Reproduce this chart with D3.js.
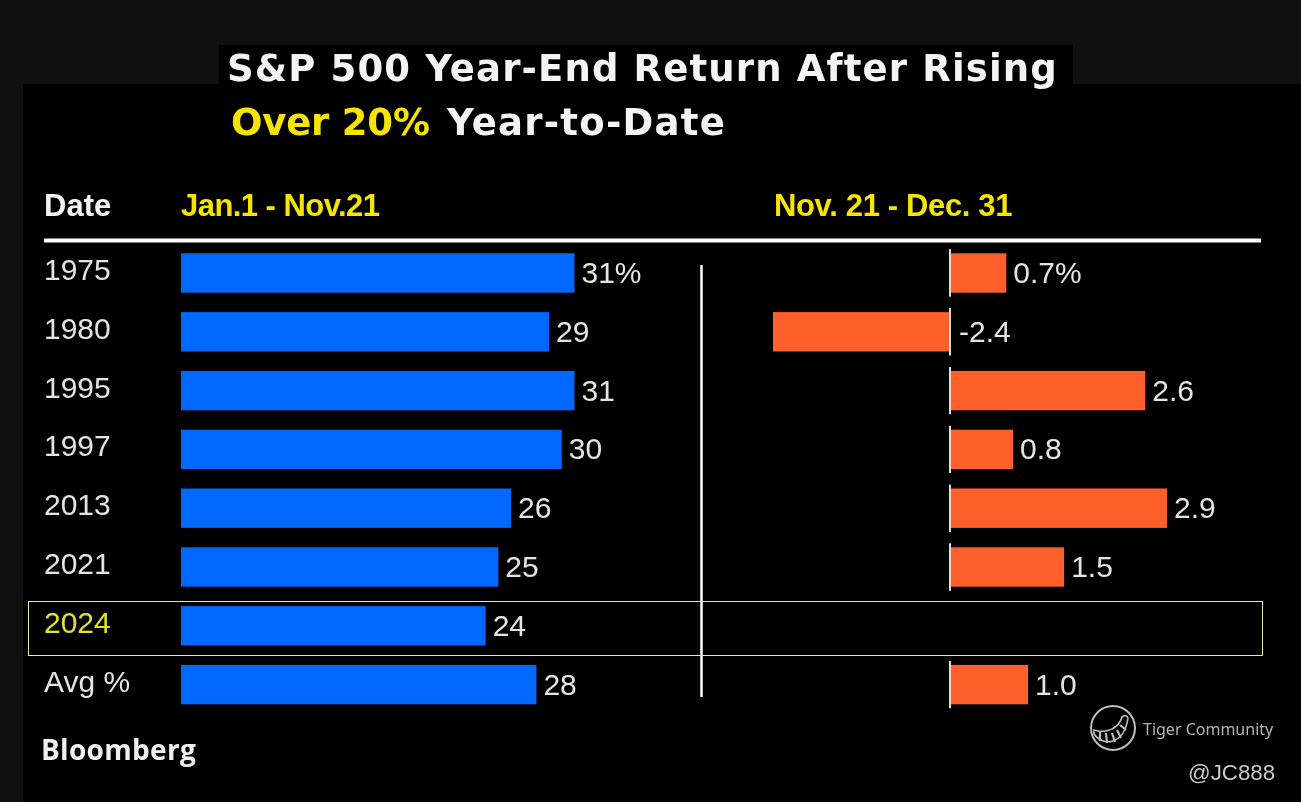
<!DOCTYPE html>
<html>
<head>
<meta charset="utf-8">
<script src="https://cdn.jsdelivr.net/npm/d3@7"></script>
<style>
  html, body { margin: 0; padding: 0; background: #101010; overflow: hidden; }
  svg { display: block; filter: blur(0.35px); font-family: "Liberation Sans", Arial, sans-serif; }
</style>
</head>
<body>
<div id="chart"></div>
<script>
const years = ["1975", "1980", "1995", "1997", "2013", "2021", "2024", "Avg %"];
const ytdReturns = [31, 29, 31, 30, 26, 25, 24, 28];
const ytdLabels = ["31%", "29", "31", "30", "26", "25", "24", "28"];
// measured bar lengths, the printed labels are rounded differently
const endReturns = [0.75, -2.36, 2.6, 0.84, 2.89, 1.52, null, 1.04];
const endLabels = ["0.7%", "-2.4", "2.6", "0.8", "2.9", "1.5", "", "1.0"];

const width = 1301, height = 802;
const blue = "#0068ff", orange = "#ff5f2a", yellow = "#f7e400", hiYellow = "#e2e22a";

const svg = d3.select("#chart").append("svg")
  .attr("width", width)
  .attr("height", height)
  .attr("viewBox", `0 0 ${width} ${height}`);

// black panel + the strip behind the first title line
svg.append("rect").attr("x", 23).attr("y", 84).attr("width", width - 23).attr("height", height - 84).attr("fill", "#000");
svg.append("rect").attr("x", 219).attr("y", 45).attr("width", 854).attr("height", 40).attr("fill", "#000");

const title = svg.append("g")
  .style("font-family", "'DejaVu Sans'")
  .style("font-size", "37px")
  .style("font-weight", "bold")
  .attr("fill", "#f4f4f4");
title.append("text")
  .attr("x", 227).attr("y", 81)
  .style("letter-spacing", "1.15px")
  .text("S&P 500 Year-End Return After Rising");
title.append("text")
  .attr("x", 231).attr("y", 135)
  .attr("fill", yellow)
  .style("letter-spacing", "-0.2px")
  .text("Over 20%");
title.append("text")
  .attr("x", 447).attr("y", 135)
  .style("letter-spacing", "1.25px")
  .text("Year-to-Date");

// column headers
const headers = svg.append("g").style("font-size", "31px").style("font-weight", "bold");
headers.append("text").attr("x", 44).attr("y", 216).attr("fill", "#f4f4f4").text("Date");
headers.append("text").attr("x", 181).attr("y", 216).attr("fill", yellow)
  .style("letter-spacing", "-0.55px").text("Jan.1 - Nov.21");
headers.append("text").attr("x", 774).attr("y", 216).attr("fill", yellow)
  .style("letter-spacing", "-0.35px").text("Nov. 21 - Dec. 31");
svg.append("line").attr("x1", 44).attr("x2", 1261).attr("y1", 240.5).attr("y2", 240.5)
  .attr("stroke", "#fff").attr("stroke-width", 4);

// scales
const y = d3.scaleBand().domain(years).range([243.6, 714]).paddingInner(0.33).paddingOuter(0.165);
const xLeft = d3.scaleLinear().domain([0, 31]).range([181, 574.5]);
const xRight = d3.scaleLinear().domain([-2.36, 0, 2.89]).range([773, 950, 1167]);

// year labels through an axis
const yAxis = svg.append("g")
  .attr("transform", "translate(115,-3.5)")
  .call(d3.axisLeft(y).tickSize(0).tickPadding(0));
yAxis.select(".domain").remove();
yAxis.selectAll("text")
  .attr("x", -71)
  .attr("text-anchor", "start")
  .attr("dy", "0.35em")
  .attr("fill", d => d === "2024" ? hiYellow : "#e4e4e4")
  .style("font-family", "'Liberation Sans'")
  .style("font-size", "30px");

const rows = years.map((year, i) => ({
  year, ytd: ytdReturns[i], ytdLabel: ytdLabels[i], end: endReturns[i], endLabel: endLabels[i]
}));

// left bars
svg.append("g").selectAll("rect").data(rows).join("rect")
  .attr("x", xLeft(0))
  .attr("y", d => y(d.year))
  .attr("width", d => xLeft(d.ytd) - xLeft(0))
  .attr("height", y.bandwidth())
  .attr("fill", blue);

svg.append("g").selectAll("text").data(rows).join("text")
  .attr("x", d => xLeft(d.ytd) + 7)
  .attr("y", d => y(d.year) + y.bandwidth() / 2 + 10)
  .attr("fill", "#e4e4e4")
  .style("font-size", "30px")
  .text(d => d.ytdLabel);

// right bars
const endRows = rows.filter(d => d.end !== null);

svg.append("g").selectAll("rect").data(endRows).join("rect")
  .attr("x", d => Math.min(xRight(d.end), xRight(0)))
  .attr("y", d => y(d.year))
  .attr("width", d => Math.abs(xRight(d.end) - xRight(0)))
  .attr("height", y.bandwidth())
  .attr("fill", orange);

svg.append("g").selectAll("line").data(endRows).join("line")
  .attr("x1", xRight(0)).attr("x2", xRight(0))
  .attr("y1", d => y(d.year) - 4)
  .attr("y2", d => y(d.year) + y.bandwidth() + 4)
  .attr("stroke", "#ddd")
  .attr("stroke-width", 2);

svg.append("g").selectAll("text").data(endRows).join("text")
  .attr("x", d => d.end < 0 ? xRight(0) + 9 : xRight(d.end) + 7)
  .attr("y", d => y(d.year) + y.bandwidth() / 2 + 10)
  .attr("fill", "#e4e4e4")
  .style("font-size", "30px")
  .text(d => d.endLabel);

// divider and the 2024 highlight
svg.append("line").attr("x1", 701.5).attr("x2", 701.5).attr("y1", 265).attr("y2", 697)
  .attr("stroke", "#fff").attr("stroke-width", 2.5);
svg.append("rect").attr("x", 28.5).attr("y", 601.5).attr("width", 1234).attr("height", 54)
  .attr("fill", "none").attr("stroke", "#ecec9a").attr("stroke-width", 1);

// footer
svg.append("text").attr("x", 41).attr("y", 760).attr("fill", "#f0f0f0")
  .style("font-family", "'Open Sans'").style("font-size", "28px").style("font-weight", "bold").style("letter-spacing", "0.3px")
  .text("Bloomberg");

// watermark
const logo = svg.append("g").attr("transform", "translate(1113,728)").attr("fill", "none").attr("stroke", "#bcbcbc");
logo.append("circle").attr("r", 22).attr("stroke-width", 2);
logo.append("path")
  .attr("d", "M-19,6 C-10,19 11,17 15,-10 Q13,-14 9,-11 C6,0 -6,6 -19,2 Z")
  .attr("stroke-width", 1.6);
logo.append("path")
  .attr("d", "M-13,4 L-13,13 M-7,5 L-6,15 M-1,5 L2,14 M4,2 L8,10 M7,-3 L13,2")
  .attr("stroke-width", 2.2);

svg.append("text").attr("x", 1143).attr("y", 735).attr("fill", "#b4b4b4")
  .style("font-family", "'Noto Sans'").style("font-size", "16px")
  .text("Tiger Community");
svg.append("text").attr("x", 1188).attr("y", 780).attr("fill", "#c8c8c8")
  .style("font-size", "22.3px")
  .text("@JC888");
</script>
</body>
</html>
